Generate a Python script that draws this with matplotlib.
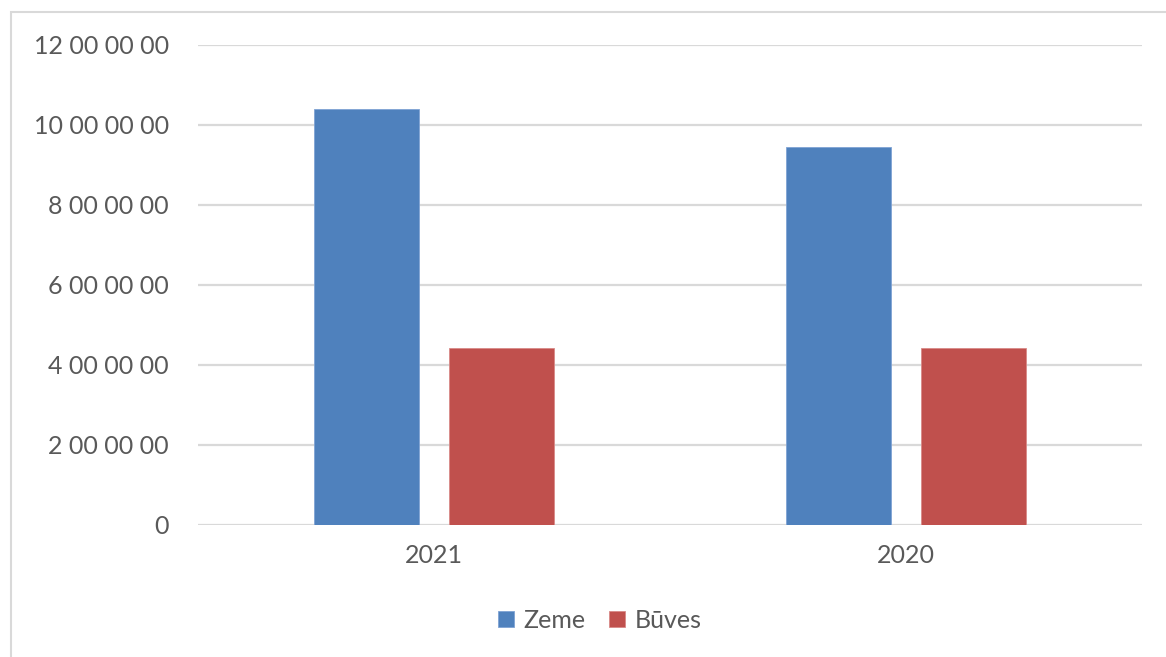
import matplotlib
matplotlib.use("Agg")
import matplotlib.pyplot as plt
import numpy as np
from matplotlib.patches import Rectangle

categories = ["2021", "2020"]
zeme = [10390000, 9440000]
buves = [4420000, 4420000]
series_names = ["Zeme", "Būves"]
ytick_values = [0, 2000000, 4000000, 6000000, 8000000, 10000000, 12000000]
ytick_labels = ["0", "2 00 00 00", "4 00 00 00", "6 00 00 00", "8 00 00 00", "10 00 00 00", "12 00 00 00"]

W, H = 1166, 657
plt.rcParams['font.family'] = ['Lato', 'DejaVu Sans']
fig = plt.figure(figsize=(W / 100, H / 100), dpi=100)
fig.patch.set_facecolor("white")

# outer frame
fig.add_artist(Rectangle((11 / W, -0.1), 1.2, 1 - 12 / H + 0.1, transform=fig.transFigure,
                         fill=False, edgecolor="#D9D9D9", linewidth=1.5))

left, right, top, bottom = 198, 1142, 45, 525
ax = fig.add_axes([left / W, 1 - bottom / H, (right - left) / W, (bottom - top) / H])

x = np.arange(len(categories))
bw = 0.2225
off = 0.1435
b1 = ax.bar(x - off, zeme, bw, color="#4F81BD", edgecolor="#7FA3D4", linewidth=0.6, label=series_names[0], zorder=3)
b2 = ax.bar(x + off, buves, bw, color="#C0504D", edgecolor="#D98A88", linewidth=0.6, label=series_names[1], zorder=3)

ax.set_xlim(-0.5, 1.5)
ax.set_ylim(0, 12000000)
ax.set_yticks(ytick_values, ytick_labels)
ax.set_xticks(x, categories)
for s in ax.spines.values():
    s.set_visible(False)
ax.grid(axis="y", color="#D9D9D9", linewidth=1.6, zorder=0)
ax.set_axisbelow(True)
ax.tick_params(axis="y", length=0, pad=21, labelsize=18, labelcolor="#595959")
ax.tick_params(axis="x", length=0, pad=14, labelsize=18, labelcolor="#595959")

leg = fig.legend(handles=[b1, b2], labels=series_names, loc="center", bbox_to_anchor=(600 / W, 1 - 620 / H),
                 ncol=2, frameon=False, fontsize=18, labelcolor="#595959",
                 handlelength=0.62, handleheight=0.62, handletextpad=0.4, columnspacing=0.95)

fig.savefig("out.png", dpi=100, facecolor="white")
